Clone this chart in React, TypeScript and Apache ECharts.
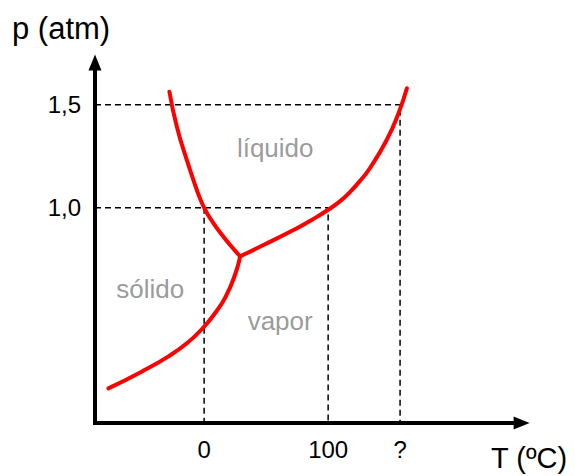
import React, { useEffect, useRef } from "react";
import * as echarts from "echarts";

// Axis ranges (T in ºC, p in atm)
const tMin = -88;
const tMax = 256;
const pMin = -0.045;
const pMax = 1.705;

// Tick values and labels
const tempTicks = [0, 100, 158];
const tempTickLabels = ["0", "100", "?"];
const pressureTicks = [1.0, 1.5];
const pressureTickLabels = ["1,0", "1,5"];

// Phase boundary curves [T, p]
const fusionCurve = [
  [-28.0, 1.563],
  [-22.0, 1.393],
  [-14.0, 1.232],
  [-5.9, 1.086],
  [-3.2, 1.044],
  [0, 1.0],
  [3.2, 0.965],
  [6.5, 0.934],
  [12.9, 0.88],
  [21.0, 0.819],
  [29.0, 0.764],
];
const sublimationCurve = [
  [29.0, 0.764],
  [25.4, 0.683],
  [17.3, 0.567],
  [8.9, 0.489],
  [-1.05, 0.416],
  [-13.7, 0.343],
  [-29.4, 0.276],
  [-50.8, 0.203],
  [-77.2, 0.123],
];
const vaporizationCurve = [
  [29.0, 0.764],
  [47.8, 0.819],
  [74.8, 0.9],
  [87.1, 0.942],
  [100, 0.99],
  [109.7, 1.032],
  [117.7, 1.077],
  [125.8, 1.131],
  [133.9, 1.194],
  [147.3, 1.33],
  [156.7, 1.458],
  [163.5, 1.58],
];

// Reference (dashed) lines
const guide15 = [
  [tMin, 1.5],
  [158, 1.5],
  [158, pMin],
];
const guide10 = [
  [tMin, 1.0],
  [100, 1.0],
  [100, pMin],
];
const guide0 = [
  [0, 1.0],
  [0, pMin],
];

// Phase region labels [T, p, text]
const regionLabels = [
  [57.3, 1.291, "líquido"],
  [-43.5, 0.607, "sólido"],
  [61.3, 0.451, "vapor"],
];

const FONT = "'Liberation Sans', Arial, sans-serif";

export default function App() {
  const ref = useRef<HTMLDivElement>(null);

  useEffect(() => {
    if (!ref.current) return;
    const chart = echarts.init(ref.current, undefined, { renderer: "svg" });

    const dashed = (data: number[][]) => ({
      type: "line",
      data,
      symbol: "none",
      silent: true,
      lineStyle: { color: "#000", width: 1.5, type: [6, 4] },
      z: 1,
    });
    const curve = (data: number[][]) => ({
      type: "line",
      data,
      symbol: "none",
      smooth: 0.5,
      silent: true,
      lineStyle: { color: "#ff0000", width: 4, cap: "round" },
      z: 3,
    });

    chart.setOption({
      animation: false,
      backgroundColor: "#fff",
      grid: { left: 95, right: 53.4, top: 62.5, bottom: 53, containLabel: false },
      xAxis: {
        type: "value",
        min: tMin,
        max: tMax,
        splitLine: { show: false },
        axisTick: { show: false },
        axisLine: {
          onZero: false,
          symbol: ["none", "triangle"],
          symbolSize: [13, 16],
          lineStyle: { color: "#000", width: 4, cap: "square" },
        },
        axisLabel: {
          customValues: tempTicks,
          formatter: (v: number) => {
            const i = tempTicks.findIndex((t) => Math.abs(t - v) < 1e-6);
            return i >= 0 ? tempTickLabels[i] : "";
          },
          margin: 14,
          fontSize: 24,
          color: "#000",
          fontFamily: FONT,
        },
      },
      yAxis: {
        type: "value",
        min: pMin,
        max: pMax,
        splitLine: { show: false },
        axisTick: { show: false },
        axisLine: {
          onZero: false,
          symbol: ["none", "triangle"],
          symbolSize: [13, 16],
          lineStyle: { color: "#000", width: 4, cap: "square" },
        },
        axisLabel: {
          customValues: pressureTicks,
          formatter: (v: number) => {
            const i = pressureTicks.findIndex((t) => Math.abs(t - v) < 1e-6);
            return i >= 0 ? pressureTickLabels[i] : "";
          },
          margin: 14,
          fontSize: 24,
          color: "#000",
          fontFamily: FONT,
        },
      },
      graphic: [
        {
          type: "text",
          left: 12,
          top: 13,
          style: { text: "p (atm)", fontSize: 31, fill: "#000", fontFamily: FONT },
        },
        {
          type: "text",
          left: 491,
          top: 443,
          style: { text: "T (ºC)", fontSize: 29, fill: "#000", fontFamily: FONT },
        },
      ],
      series: [
        dashed(guide15),
        dashed(guide10),
        dashed(guide0),
        curve(fusionCurve),
        curve(sublimationCurve),
        curve(vaporizationCurve),
        {
          type: "scatter",
          data: regionLabels,
          symbolSize: 1,
          silent: true,
          itemStyle: { color: "rgba(0,0,0,0)" },
          label: {
            show: true,
            position: "inside",
            formatter: (p: any) => p.data[2],
            fontSize: 26,
            color: "#808080",
            fontFamily: FONT,
          },
          z: 4,
        },
      ],
    });

    return () => chart.dispose();
  }, []);

  return (
    <div
      ref={ref}
      style={{ position: "fixed", left: 0, top: 0, width: 575, height: 476 }}
    />
  );
}
